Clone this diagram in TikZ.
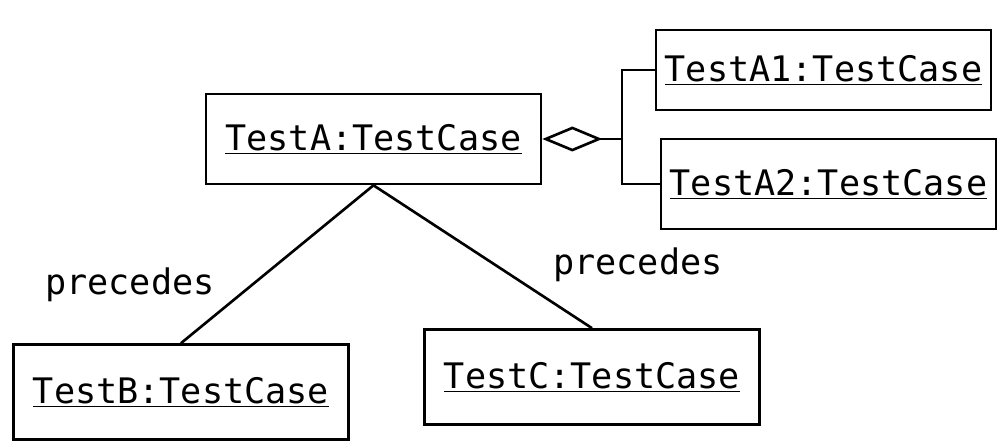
\documentclass[tikz,border=0pt]{standalone}
\usepackage{fontspec}
\setmonofont{DejaVu Sans Mono}
\usepackage{tikz}
\usetikzlibrary{arrows.meta,positioning}

\begin{document}
\begin{tikzpicture}[
    obj/.style={rectangle, draw=black, line width=1.5pt, minimum width=6.7cm,
                minimum height=1.8cm, text centered, font=\ttfamily\fontsize{20}{24}\selectfont},
    link/.style={line width=1.5pt},
    agg/.style={line width=1.5pt, {Diamond[open, length=1.2cm, width=0.5cm]}-},
    lbl/.style={font=\ttfamily\fontsize{20}{24}\selectfont}
]
    \useasboundingbox (0,0) rectangle (19.96,8.92);

    % Objects
    \node[obj] (testa) at (7.47,6.14) {\underline{TestA:TestCase}};
    \node[obj, minimum height=1.6cm] (testa1) at (16.47,7.52) {\underline{TestA1:TestCase}};
    \node[obj] (testa2) at (16.57,5.24) {\underline{TestA2:TestCase}};
    \node[obj, minimum height=1.9cm] (testb) at (3.62,1.08) {\underline{TestB:TestCase}};
    \node[obj, minimum height=1.9cm] (testc) at (11.84,1.38) {\underline{TestC:TestCase}};

    % Aggregation
    \coordinate (junc) at (12.44,6.14);
    \draw[agg] (testa.east) -- (junc);
    \draw[link] (testa1.west) -| (junc) |- (testa2.west);

    % Precedes links
    \draw[link] (testa.south) -- (testb.north);
    \draw[link] (testa.south) -- (testc.north);
    \node[lbl] (precb) at (2.6,3.22) {precedes};
    \node[lbl] (precc) at (12.76,3.62) {precedes};

\end{tikzpicture}
\end{document}
